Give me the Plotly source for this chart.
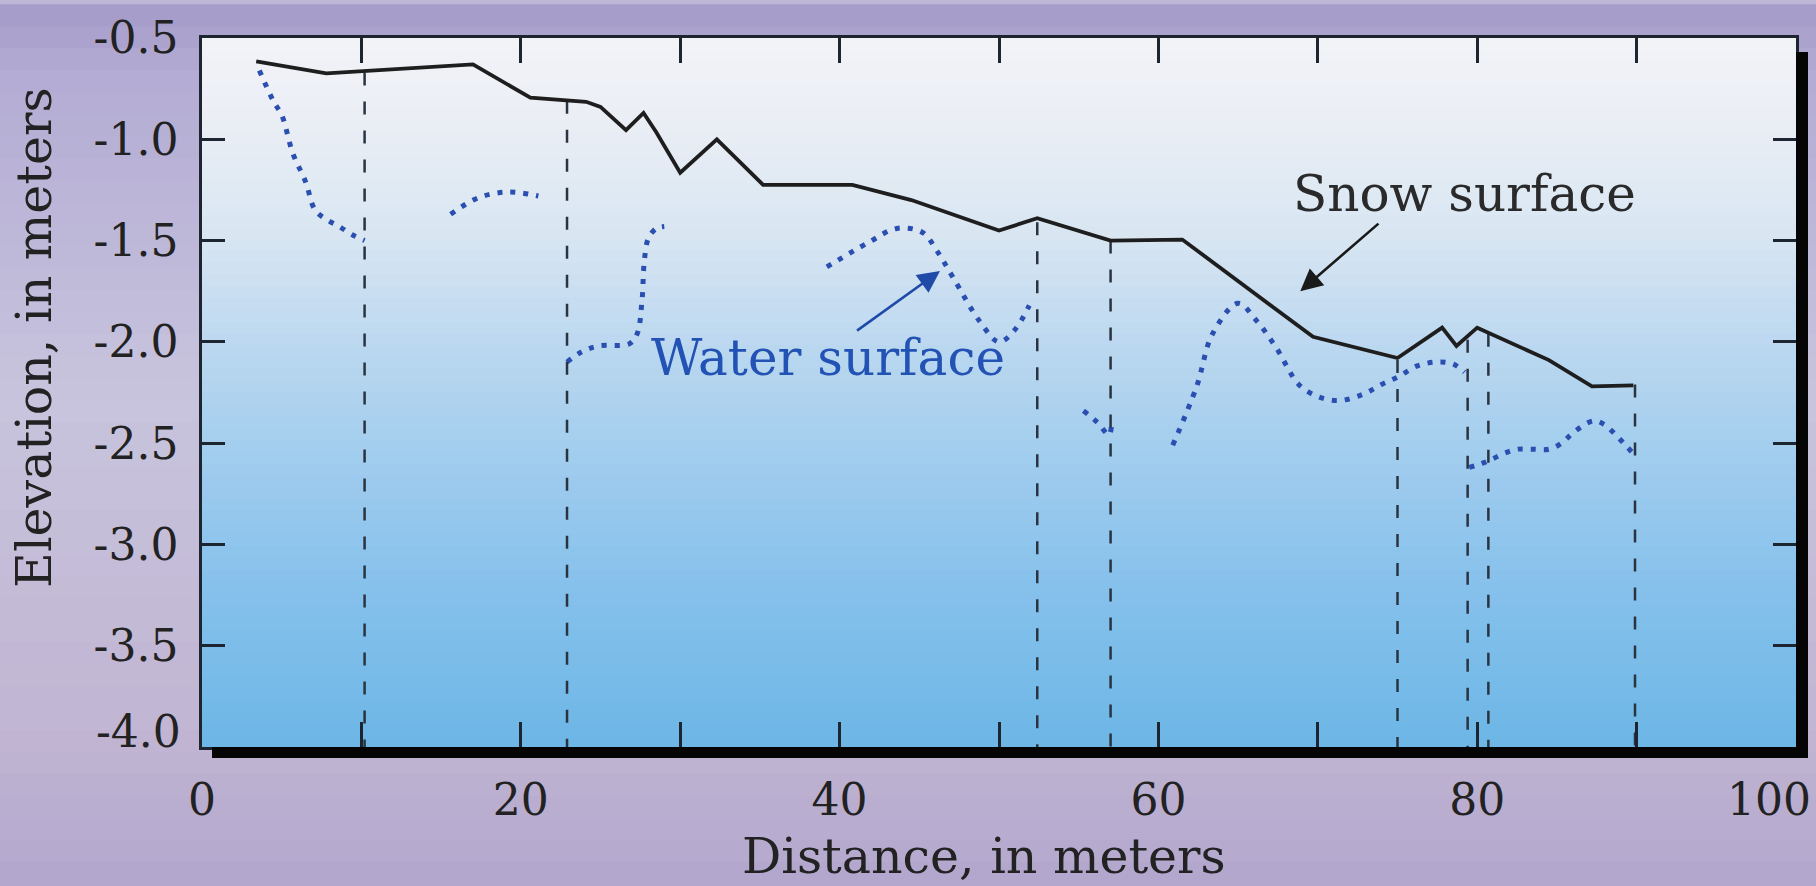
import plotly.graph_objects as go

# ---------------- data ----------------
snow_x = [3.4, 7.8, 17.0, 20.6, 24.1, 25.0, 26.6, 27.7, 28.5, 30.0, 32.3, 35.2, 40.8, 44.5,
          50.0, 52.4, 57.0, 61.5, 69.7, 75.0, 77.8, 78.7, 80.0, 84.5, 87.2, 89.8]
snow_y = [-0.615, -0.675, -0.63, -0.795, -0.815, -0.84, -0.955, -0.87, -0.965, -1.165, -1.0,
          -1.225, -1.225, -1.30, -1.45, -1.39, -1.50, -1.495, -1.975, -2.08, -1.93, -2.02,
          -1.93, -2.09, -2.22, -2.215]

water1_x = [3.6, 4.5, 5.0, 5.7, 6.5, 7.1, 7.9, 8.6, 9.4, 10.2]
water1_y = [-0.66, -0.815, -0.88, -1.07, -1.21, -1.35, -1.40, -1.43, -1.47, -1.50]
water2_x = [15.6, 17.3, 19.2, 21.1]
water2_y = [-1.37, -1.29, -1.26, -1.28]
water3_x = [22.9, 23.8, 24.9, 26.8, 27.3, 27.6, 27.75, 28.0, 28.5, 29.0]
water3_y = [-2.10, -2.05, -2.02, -2.01, -1.96, -1.80, -1.60, -1.49, -1.44, -1.43]
water4_x = [39.2, 41.8, 43.6, 45.2, 46.1, 47.1, 48.8, 50.0, 51.0, 51.9]
water4_y = [-1.63, -1.51, -1.44, -1.46, -1.55, -1.68, -1.90, -2.00, -1.94, -1.82]
water5_x = [55.3, 56.2, 56.9, 57.05]
water5_y = [-2.34, -2.40, -2.46, -2.42]
water6_x = [60.9, 62.4, 63.4, 65.0, 66.1, 67.4, 68.8, 70.0, 71.3, 72.8, 74.0, 75.1, 76.2,
            77.4, 78.5, 79.2]
water6_y = [-2.51, -2.22, -1.96, -1.81, -1.89, -2.03, -2.21, -2.27, -2.29, -2.26, -2.21,
            -2.17, -2.12, -2.10, -2.11, -2.15]
water7_x = [79.5, 80.3, 80.9, 81.7, 82.5, 83.5, 84.5, 85.3, 86.0, 87.3, 88.0, 88.7, 89.3, 89.9]
water7_y = [-2.62, -2.60, -2.58, -2.55, -2.53, -2.53, -2.53, -2.50, -2.45, -2.39, -2.41,
            -2.46, -2.51, -2.56]

pit_x = [10.2, 22.9, 52.4, 57.0, 75.0, 79.4, 80.7, 89.9]
pit_top = [-0.67, -0.81, -1.41, -1.50, -2.09, -1.99, -1.96, -2.21]
pit_bottom = -4.0

x_ticks = [0, 10, 20, 30, 40, 50, 60, 70, 80, 90, 100]
x_labels = ["0", "", "20", "", "40", "", "60", "", "80", "", ""]
y_ticks = [-4.0, -3.5, -3.0, -2.5, -2.0, -1.5, -1.0, -0.5]
y_labels = ["", "-3.5", "-3.0", "-2.5", "-2.0", "-1.5", "-1.0", "-0.5"]

# ---------------- figure ----------------
W, H = 1816, 886
L, R, T, B = 202, 20, 33, 139
PW, PH = W - L - R, H - T - B
FONT = "DejaVu Serif"
AX = "#1d2630"
BLUE = "#2a4fb0"
TXT = "#222222"

fig = go.Figure()

for xs, ys in [(water1_x, water1_y), (water2_x, water2_y), (water3_x, water3_y),
               (water4_x, water4_y), (water5_x, water5_y), (water6_x, water6_y),
               (water7_x, water7_y)]:
    fig.add_trace(go.Scatter(x=xs, y=ys, mode="lines", line_shape="spline",
                             line=dict(color=BLUE, width=5, dash="5px,8px"),
                             showlegend=False, hoverinfo="skip"))

for px, top in zip(pit_x, pit_top):
    fig.add_trace(go.Scatter(x=[px, px], y=[top, pit_bottom], mode="lines",
                             line=dict(color="#2a3440", width=2.5, dash="13px,16px"),
                             showlegend=False, hoverinfo="skip"))

fig.add_trace(go.Scatter(x=snow_x, y=snow_y, mode="lines",
                         line=dict(color="#1e1e1e", width=3.8),
                         showlegend=False, hoverinfo="skip"))


def lerp(stops, f):
    for (f0, c0), (f1, c1) in zip(stops[:-1], stops[1:]):
        if f0 <= f <= f1:
            t = (f - f0) / (f1 - f0) if f1 > f0 else 0
            return "rgb(%d,%d,%d)" % tuple(round(a + (b - a) * t) for a, b in zip(c0, c1))
    return "rgb(%d,%d,%d)" % stops[-1][1]


shapes = []
# page background gradient (fraction from top of page)
paper_stops = [(0.0, (163, 154, 200)), (0.08, (180, 172, 212)), (0.45, (200, 196, 221)),
               (0.85, (192, 180, 210)), (1.0, (178, 166, 206))]
N = 40
x0p, x1p = -L / PW - 0.01, 1 + R / PW + 0.01
for k in range(N):
    f = (k + 0.5) / N
    ytop = (H - B - k * H / N) / PH
    ybot = (H - B - (k + 1) * H / N - 1) / PH
    shapes.append(dict(type="rect", xref="paper", yref="paper", x0=x0p, x1=x1p,
                       y0=ybot, y1=ytop + 1 / PH, fillcolor=lerp(paper_stops, f),
                       line=dict(width=0), layer="below"))
# plot area gradient
plot_stops = [(0.0, (243, 243, 247)), (0.12, (234, 238, 245)), (0.28, (216, 230, 242)),
              (0.43, (188, 216, 240)), (0.6, (160, 204, 238)), (0.76, (136, 194, 236)),
              (1.0, (108, 182, 230))]
M = 60
for k in range(M):
    f = (k + 0.5) / M
    shapes.append(dict(type="rect", xref="paper", yref="paper", x0=0, x1=1,
                       y0=1 - (k + 1) / M - 0.002, y1=1 - k / M, fillcolor=lerp(plot_stops, f),
                       line=dict(width=0), layer="below"))
# shadow bars (bottom and right of the frame)
shapes.append(dict(type="rect", xref="paper", yref="paper", x0=10 / PW, x1=1 + 12 / PW,
                   y0=-11 / PH, y1=0, fillcolor="#050505", line=dict(width=0), layer="above"))
shapes.append(dict(type="rect", xref="paper", yref="paper", x0=1, x1=1 + 12 / PW,
                   y0=-11 / PH, y1=1 - 14 / PH, fillcolor="#050505", line=dict(width=0),
                   layer="above"))

annotations = [
    dict(text="Snow surface", x=79.2, y=-1.27, xref="x", yref="y", showarrow=False,
         xanchor="center", yanchor="middle",
         font=dict(family=FONT, size=50, color="#2a2a2a")),
    dict(text="Water surface", x=39.3, y=-2.08, xref="x", yref="y", showarrow=False,
         xanchor="center", yanchor="middle",
         font=dict(family=FONT, size=50, color="#2352b5")),
    dict(text="", x=68.9, y=-1.75, ax=73.9, ay=-1.41, xref="x", yref="y", axref="x",
         ayref="y", showarrow=True, arrowhead=2, arrowsize=1.7, arrowwidth=2.6,
         arrowcolor="#1a1a1a"),
    dict(text="", x=46.3, y=-1.65, ax=41.0, ay=-1.95, xref="x", yref="y", axref="x",
         ayref="y", showarrow=True, arrowhead=2, arrowsize=1.7, arrowwidth=2.6,
         arrowcolor="#1f4aa8"),
    dict(text="100", x=98.3, y=(H - B - 800) / PH, xref="x", yref="paper", showarrow=False,
         xanchor="center", yanchor="middle", font=dict(family=FONT, size=44, color=TXT)),
    dict(text="-4.0", x=(183 - L) / PW, y=(H - B - 731) / PH, xref="paper", yref="paper",
         showarrow=False, xanchor="right", yanchor="middle",
         font=dict(family=FONT, size=44, color=TXT)),
    dict(text="Elevation, in meters", x=(35 - L) / PW, y=(H - B - 335) / PH, xref="paper",
         yref="paper", showarrow=False, textangle=-90, xanchor="center", yanchor="middle",
         font=dict(family=FONT, size=49, color=TXT)),
    dict(text="Distance, in meters", x=(984 - L) / PW, y=(H - B - 857) / PH, xref="paper",
         yref="paper", showarrow=False, xanchor="center", yanchor="middle",
         font=dict(family=FONT, size=49, color=TXT)),
]

axis_common = dict(showline=True, linecolor=AX, linewidth=2.5, mirror="ticks",
                   ticks="inside", tickcolor=AX, tickwidth=2.5, showgrid=False,
                   zeroline=False, tickfont=dict(family=FONT, size=44, color=TXT))

fig.update_layout(
    width=W, height=H,
    margin=dict(l=L, r=R, t=T, b=B, pad=0),
    paper_bgcolor="rgb(190,184,214)",
    plot_bgcolor="rgba(0,0,0,0)",
    xaxis=dict(range=[0, 100], tickmode="array", tickvals=x_ticks, ticktext=x_labels,
               ticklen=25, ticklabelstandoff=12, **axis_common),
    yaxis=dict(range=[-4.0, -0.5], tickmode="array", tickvals=y_ticks, ticktext=y_labels,
               ticklen=23, ticklabelstandoff=12, **axis_common),
    shapes=shapes,
    annotations=annotations,
    showlegend=False,
)

fig.write_html("out.html", config={"displayModeBar": False},
               post_script="document.body.style.margin='0';"
                           "document.body.style.overflow='hidden';")
